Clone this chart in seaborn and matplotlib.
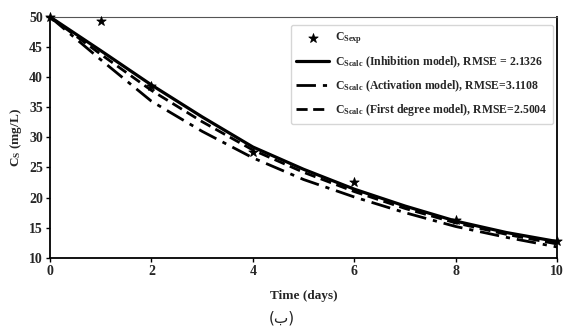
import numpy as np
import pandas as pd
import matplotlib
matplotlib.use("Agg")
import matplotlib.pyplot as plt
import seaborn as sns

# data
t_exp = [0, 1, 2, 4, 6, 8, 10]
cs_exp = [50, 49.3, 38.5, 27.5, 22.6, 16.2, 12.8]

t_model = [0, 1, 2, 3, 4, 5, 6, 7, 8, 9, 10]
cs_inhibition = [50, 44.4, 38.7, 33.4, 28.4, 24.7, 21.4, 18.6, 16.1, 14.2, 12.7]
cs_activation = [50, 42.9, 36.0, 31.0, 26.6, 23.0, 20.1, 17.5, 15.2, 13.4, 11.8]
cs_first = [50, 43.8, 37.8, 32.6, 27.9, 24.2, 21.0, 18.2, 15.8, 13.9, 12.3]

labels = [
    r"C$_{\mathrm{Sexp}}$",
    r"C$_{\mathrm{Scalc}}$ (Inhibition model), RMSE = 2.1326",
    r"C$_{\mathrm{Scalc}}$ (Activation model), RMSE=3.1108",
    r"C$_{\mathrm{Scalc}}$ (First degree model), RMSE=2.5004",
]

sns.set_theme(style="ticks")
plt.rcParams["font.family"] = ["Liberation Serif", "DejaVu Sans"]
plt.rcParams["font.weight"] = "bold"
plt.rcParams["mathtext.fontset"] = "custom"
plt.rcParams["mathtext.rm"] = "Liberation Serif:bold"
plt.rcParams["mathtext.it"] = "Liberation Serif:bold"
plt.rcParams["mathtext.bf"] = "Liberation Serif:bold"

fig = plt.figure(figsize=(5.68, 3.31), dpi=100)
ax = fig.add_axes([0.088, 0.221, 0.893, 0.728])

sns.lineplot(x=t_model, y=cs_inhibition, ax=ax, color="black", lw=2.3,
             label=labels[1])
sns.lineplot(x=t_model, y=cs_activation, ax=ax, color="black", lw=2.0,
             label=labels[2]).lines[-1].set_dashes([7, 2.5, 1.5, 2.5])
sns.lineplot(x=t_model, y=cs_first, ax=ax, color="black", lw=2.0,
             label=labels[3]).lines[-1].set_dashes([4, 2])
sns.scatterplot(x=t_exp, y=cs_exp, ax=ax, marker="*", s=50, color="black",
                edgecolor="black", zorder=5, label=labels[0], clip_on=False)

ax.set_xlim(0, 10)
ax.set_ylim(10, 50)
ax.set_xticks([0, 2, 4, 6, 8, 10])
ax.set_yticks(range(10, 51, 5))
ax.tick_params(labelsize=10, length=3, width=1, color="black", pad=2)
for lab in ax.get_xticklabels() + ax.get_yticklabels():
    lab.set_fontweight("bold")
for side in ["left", "bottom", "right"]:
    ax.spines[side].set_color("black")
    ax.spines[side].set_linewidth(1.3)
ax.spines["top"].set_color("#555555")
ax.spines["top"].set_linewidth(0.8)

ax.set_xlabel("Time (days)", fontsize=9.5, fontweight="bold", labelpad=9)
ax.set_ylabel(r"C$_{\mathrm{S}}$ (mg/L)", fontsize=9.5, fontweight="bold", labelpad=4)

h, l = ax.get_legend_handles_labels()
order = [3, 0, 1, 2]
leg = ax.legend([h[i] for i in order], [l[i] for i in order],
                loc="upper right", bbox_to_anchor=(0.992, 0.967),
                fontsize=8.5, frameon=True, handlelength=2.8, handletextpad=0.45,
                labelspacing=0.7, borderpad=0.5, borderaxespad=0,
                fancybox=True)
leg.get_frame().set_edgecolor("#cccccc")
leg.get_frame().set_linewidth(1.0)
for txt in leg.get_texts():
    txt.set_fontweight("bold")

fig.text(0.497, 0.039, "(ب)", ha="center", va="center", fontsize=11,
         fontweight="normal", family=["DejaVu Sans"])

fig.savefig("out.png", dpi=100)
